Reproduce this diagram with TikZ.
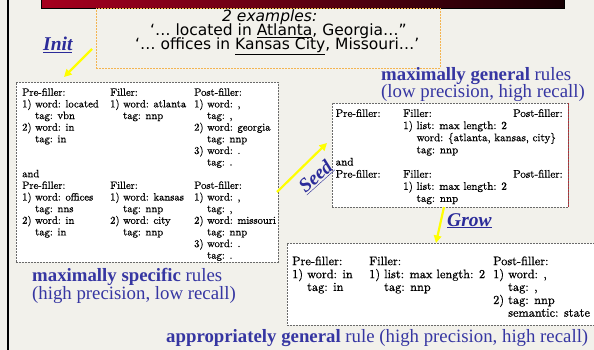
\documentclass[tikz,border=0pt]{standalone}
\usepackage{fontspec}
\newfontfamily\captionserif{Liberation Serif}
\newfontfamily\examplesans{DejaVu Sans}
\newfontfamily\ruleserif{lmroman10-regular.otf}[FakeBold=0.7]
\usetikzlibrary{arrows.meta}

\definecolor{slidebg}{HTML}{F2F1EB}
\definecolor{slideblue}{HTML}{3636A2}
\definecolor{linkblue}{HTML}{2B2B99}
\definecolor{barred}{HTML}{A6001F}
\definecolor{barmid}{HTML}{84001A}
\definecolor{bardark}{HTML}{160003}
\definecolor{exborder}{HTML}{F4B450}
\definecolor{boxborder}{HTML}{6A6A6A}
\definecolor{edgered}{HTML}{B03038}
\definecolor{flowyellow}{HTML}{FFFF00}

\newcommand{\tabindent}{\hspace*{1.222em}}

\begin{document}
\begin{tikzpicture}[x=1pt,y=-1pt,
  rulebox/.style={draw=boxborder, fill=white, dash pattern=on 2pt off 1pt,
    line width=0.5pt, anchor=north west, inner sep=0pt},
  ruletext/.style={anchor=north west, inner sep=0pt},
  rulecaption/.style={anchor=base west, inner sep=0pt, text=slideblue,
    font=\captionserif\fontsize{18.8}{18.8}\selectfont},
  steplabel/.style={inner sep=0pt, text=linkblue,
    font=\captionserif\bfseries\itshape\fontsize{19.5}{19.5}\selectfont},
  stepflow/.style={draw=flowyellow, line width=2.2pt,
    -{Triangle[length=7.5pt,width=7.5pt]}},
  exline/.style={anchor=base west, inner sep=0pt,
    font=\examplesans\fontsize{15.5}{15.5}\selectfont}
]
% page background and frame
\fill[slidebg] (0,0) rectangle (594,350);
\useasboundingbox (0,0) rectangle (594,350);
\fill[black] (6.5,0) rectangle (9,350);

% title bar
\shade[left color=barred, middle color=barmid, right color=bardark]
  (41,-2) rectangle (564,8);
\draw[black, line width=0.6pt] (41,-2) -- (41,8) -- (564,8) -- (564,-2);

% example sentences
\node[draw=exborder, dash pattern=on 2pt off 1pt, line width=0.6pt,
  anchor=north west, inner sep=0pt, minimum width=344pt, minimum height=60pt]
  (exbox) at (96,8) {};
\node[exline] (ex1) at (222,21.7) {\itshape 2 examples:};
\node[exline] (ex2) at (150,36) {‘… located in \underline{Atlanta}, Georgia…”};
\node[exline] (ex3) at (135,49.3) {‘… offices in \underline{Kansas City}, Missouri…’};

% maximally specific rules
\node[rulebox, minimum width=262pt, minimum height=180pt] (specbox) at (16,82) {};
\node[ruletext, font=\ruleserif\fontsize{10.6}{11.64}\selectfont] (spectext) at (22,87.4) {%
\begin{tabular}{@{}p{88pt}@{}p{84pt}@{}l@{}}
Pre-filler: & Filler: & Post-filler:\\
1) word: located & 1) word: atlanta & 1) word: ,\\
\tabindent tag: vbn & \tabindent tag: nnp & \tabindent tag: ,\\
2) word: in & & 2) word: georgia\\
\tabindent tag: in & & \tabindent tag: nnp\\
& & 3) word: .\\
& & \tabindent tag: .\\
and & & \\
Pre-filler: & Filler: & Post-filler:\\
1) word: offices & 1) word: kansas & 1) word: ,\\
\tabindent tag: nns & \tabindent tag: nnp & \tabindent tag: ,\\
2) word: in & 2) word: city & 2) word: missouri\\
\tabindent tag: in & \tabindent tag: nnp & \tabindent tag: nnp\\
& & 3) word: .\\
& & \tabindent tag: .
\end{tabular}};
\node[rulecaption] (speccap) at (32,281) {{\bfseries maximally specific} rules};
\node[rulecaption] (specnote) at (32,299.3) {(high precision, low recall)};

% maximally general rules
\node[rulebox, minimum width=236pt, minimum height=104pt] (genbox) at (332,103) {};
\draw[edgered, dash pattern=on 2pt off 1pt, line width=0.6pt]
  (genbox.north east) -- (genbox.south east);
\node[ruletext, font=\ruleserif\fontsize{11}{12.15}\selectfont] (gentext) at (335.5,108.2) {%
\begin{tabular}{@{}p{67.5pt}@{}p{110pt}@{}l@{}}
Pre-filler: & Filler: & Post-filler:\\
& 1) list: max length: 2 & \\
& \leavevmode\rlap{\tabindent word: \{atlanta, kansas, city\}} & \\
& \tabindent tag: nnp & \\
and & & \\
Pre-filler: & Filler: & Post-filler:\\
& 1) list: max length: 2 & \\
& \tabindent tag: nnp &
\end{tabular}};
\node[rulecaption] (gencap) at (381,81) {{\bfseries maximally general} rules};
\node[rulecaption] (gennote) at (381,97.3) {(low precision, high recall)};

% appropriately general rule
\node[rulebox, minimum width=320pt, minimum height=82pt] (apbox) at (287,243) {};
\node[ruletext, font=\ruleserif\fontsize{12.3}{12.75}\selectfont] (aptext) at (292,256) {%
\begin{tabular}{@{}p{77pt}@{}p{124pt}@{}l@{}}
Pre-filler: & Filler: & Post-filler:\\
1) word: in & 1) list: max length: 2 & 1) word: ,\\
\tabindent tag: in & \tabindent tag: nnp & \tabindent tag: ,\\
& & 2) tag: nnp\\
& & \tabindent semantic: state
\end{tabular}};
\node[rulecaption] (apcap) at (166,342) {{\bfseries appropriately general} rule (high precision, high recall)};

% learning steps
\node[steplabel, anchor=base west] (init) at (43,50.5) {\underline{Init}};
\coordinate (initfrom) at (92,49);
\coordinate (initto) at (64,77);
\draw[stepflow] (initfrom) -- (initto);

\node[steplabel, rotate=42] (seed) at (316,177) {\underline{Seed}};
\coordinate (seedfrom) at (277,192);
\coordinate (seedto) at (327,143);
\draw[stepflow] (seedfrom) -- (seedto);

\node[steplabel, anchor=base west] (grow) at (447,226) {\underline{Grow}};
\coordinate (growfrom) at (444,207);
\coordinate (growto) at (436,243);
\draw[stepflow] (growfrom) -- (growto);
\end{tikzpicture}
\end{document}
